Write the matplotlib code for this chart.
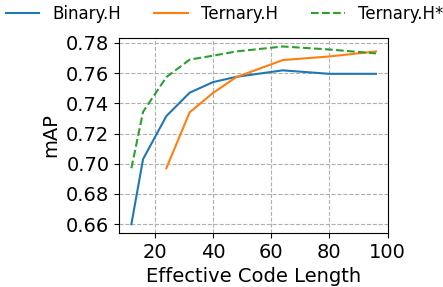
import matplotlib
matplotlib.use('Agg')
import matplotlib.pyplot as plt

# effective code length
code_len = [12, 16, 24, 32, 40, 48, 64, 80, 96]
binary_h = [0.660, 0.703, 0.7315, 0.747, 0.754, 0.7575, 0.7618, 0.7595, 0.7595]

ternary_len = [24, 32, 40, 48, 64, 80, 96]
ternary_h = [0.697, 0.734, 0.7468, 0.7573, 0.7686, 0.771, 0.7743]

ternary_h_star = [0.697, 0.7343, 0.7573, 0.7689, 0.7715, 0.7743, 0.7776, 0.7756, 0.773]

plt.rcParams['font.size'] = 14

fig = plt.figure(figsize=(4.43, 2.87), dpi=100)
ax = fig.add_axes([0.269, 0.188, 0.606, 0.681])

ax.plot(code_len, binary_h, color='#1f77b4', lw=1.5, label='Binary.H')
ax.plot(ternary_len, ternary_h, color='#ff7f0e', lw=1.5, label='Ternary.H')
ax.plot(code_len, ternary_h_star, color='#2ca02c', lw=1.5, ls='--', label='Ternary.H*')

ax.set_xlim(right=100)
ax.set_xticks([20, 40, 60, 80, 100])
ax.set_yticks([0.66, 0.68, 0.70, 0.72, 0.74, 0.76, 0.78])
ax.set_xlabel('Effective Code Length')
ax.set_ylabel('mAP')
ax.grid(True, ls='--', color='#b0b0b0', lw=0.8)

fig.legend(loc='upper center', bbox_to_anchor=(0.507, 1.035), ncol=3, frameon=False,
           fontsize=12)

fig.savefig('out.png', dpi=100)
